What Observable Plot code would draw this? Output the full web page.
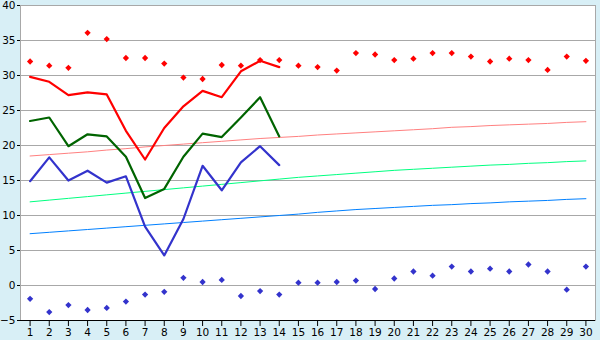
<!DOCTYPE html>
<html><head><meta charset="utf-8">
<script src="https://cdn.jsdelivr.net/npm/d3@7"></script>
<script src="https://cdn.jsdelivr.net/npm/@observablehq/plot@0.6"></script>
<style>
html,body{margin:0;padding:0;background:#d8eff6;}
#chart{width:600px;height:340px;}
</style>
</head><body><div id="chart"></div>
<script>
const days = [1,2,3,4,5,6,7,8,9,10,11,12,13,14,15,16,17,18,19,20,21,22,23,24,25,26,27,28,29,30];
const yTicks = [-5,0,5,10,15,20,25,30,35,40];

// record-style markers
const maxRecord = [32.0,31.4,31.1,36.1,35.2,32.5,32.5,31.7,29.7,29.5,31.5,31.4,32.2,32.2,31.4,31.2,30.7,33.2,33.0,32.2,32.4,33.2,33.2,32.7,32.0,32.4,32.2,30.8,32.7,32.1];
const minRecord = [-1.9,-3.8,-2.8,-3.5,-3.2,-2.3,-1.3,-0.9,1.1,0.5,0.8,-1.5,-0.8,-1.3,0.4,0.4,0.5,0.7,-0.5,1.0,2.0,1.4,2.7,2.0,2.4,2.0,3.0,2.0,-0.6,2.7];

// actual observations (days 1-14)
const maxActual = [29.8,29.1,27.2,27.6,27.3,22.1,18.0,22.5,25.6,27.8,26.9,30.6,32.1,31.2];
const meanActual = [23.5,24.0,19.9,21.6,21.3,18.4,12.5,13.8,18.4,21.7,21.2,24.0,26.9,21.3];
const minActual = [14.9,18.3,15.0,16.4,14.7,15.6,8.4,4.3,9.5,17.1,13.6,17.6,19.9,17.2];

// normals
const maxNormal = [18.5,18.7,18.9,19.1,19.35,19.55,19.8,20.0,20.2,20.4,20.6,20.8,21.0,21.15,21.3,21.5,21.65,21.8,21.95,22.1,22.25,22.4,22.6,22.7,22.85,22.95,23.05,23.15,23.3,23.4];
const meanNormal = [11.95,12.2,12.45,12.7,12.95,13.2,13.45,13.7,13.95,14.2,14.45,14.7,14.95,15.2,15.45,15.65,15.85,16.05,16.25,16.45,16.6,16.75,16.9,17.05,17.2,17.3,17.45,17.55,17.7,17.8];
const minNormal = [7.4,7.6,7.8,8.0,8.2,8.4,8.6,8.8,9.0,9.2,9.4,9.6,9.8,10.0,10.2,10.45,10.65,10.85,11.0,11.15,11.3,11.45,11.55,11.7,11.8,11.95,12.05,12.15,12.3,12.4];

const rows = days.map((d, i) => ({day: d, maxRecord: maxRecord[i], minRecord: minRecord[i], maxNormal: maxNormal[i], meanNormal: meanNormal[i], minNormal: minNormal[i]}));
const obs = maxActual.map((v, i) => ({day: days[i], max: v, mean: meanActual[i], min: minActual[i]}));

const chart = Plot.plot({
  width: 600, height: 340,
  marginLeft: 20, marginRight: 5, marginTop: 5, marginBottom: 20,
  style: {background: "#d8eff6", fontFamily: "DejaVu Sans", fontSize: "10.5px", color: "#000", overflow: "visible"},
  x: {domain: [0.5, 30.5]},
  y: {domain: [-5, 40]},
  marks: [
    Plot.frame({fill: "white", stroke: "#a8a8a8"}),
    Plot.gridY({ticks: yTicks, stroke: "#a8a8a8", strokeOpacity: 1}),
    Plot.ruleY([-5], {stroke: "#000"}),
    Plot.axisY({ticks: yTicks, tickSize: 3, tickPadding: 2, label: null}),
    Plot.axisX({ticks: days, tickSize: 6, tickPadding: 2, label: null, tickFormat: d => String(d)}),
    Plot.line(rows, {x: "day", y: "maxNormal", stroke: "#ff8080", strokeWidth: 1}),
    Plot.line(rows, {x: "day", y: "meanNormal", stroke: "#00ff80", strokeWidth: 1}),
    Plot.line(rows, {x: "day", y: "minNormal", stroke: "#0080ff", strokeWidth: 1}),
    Plot.line(obs, {x: "day", y: "max", stroke: "#ff0000", strokeWidth: 2.2}),
    Plot.line(obs, {x: "day", y: "mean", stroke: "#006400", strokeWidth: 2.2}),
    Plot.line(obs, {x: "day", y: "min", stroke: "#3333cc", strokeWidth: 2.2}),
    Plot.dot(rows, {x: "day", y: "maxRecord", symbol: "square", rotate: 45, r: 2.5, fill: "#ff0000", stroke: null}),
    Plot.dot(rows, {x: "day", y: "minRecord", symbol: "square", rotate: 45, r: 2.5, fill: "#3333cc", stroke: null})
  ]
});
document.getElementById("chart").append(chart);
</script>
</body></html>
